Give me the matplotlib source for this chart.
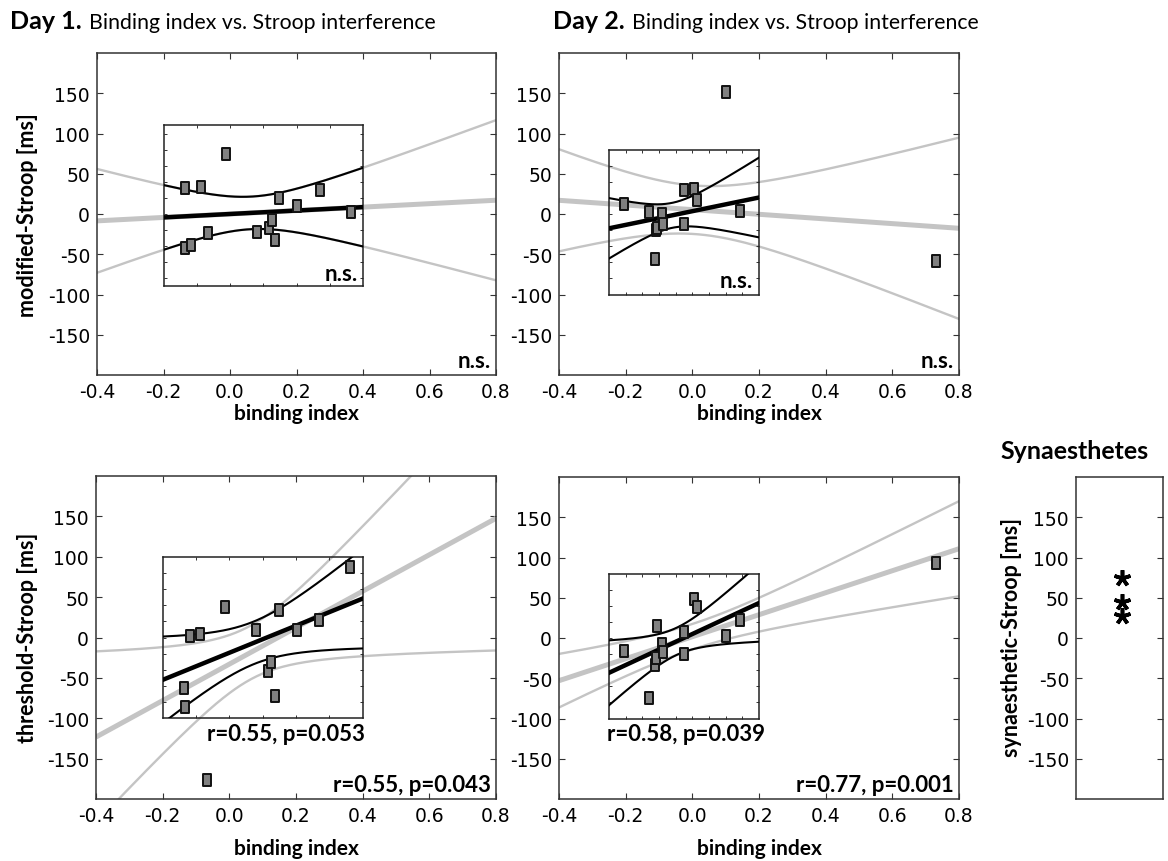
import numpy as np
import matplotlib
matplotlib.use("Agg")
import matplotlib.pyplot as plt
from matplotlib.path import Path

# ---------------- data ----------------
day1_binding = [-0.136, -0.134, -0.117, -0.088, -0.067, -0.013, 0.080,
                0.116, 0.125, 0.136, 0.148, 0.202, 0.270, 0.363]
day1_modified = [-42, 32, -38, 34, -24, 74, -22, -17, -7, -32, 19.5, 9.6, 30, 2]
day1_threshold = [-62, -86, 2, 4, -176, 38, 9, -41, -30, -72, 34, 9, 22, 87]

day2_binding = [-0.205, -0.130, -0.111, -0.109, -0.106, -0.091, -0.088,
                -0.026, -0.025, 0.005, 0.015, 0.101, 0.144, 0.732]
day2_modified = [13, 3, -56, -20, -17, 0, -13, -12, 30, 31, 17.5, 152, 3.4, -59]
day2_threshold = [-16, -74, -33, -25, 15, -7, -17, -20, 8, 49, 38.5, 3, 22, 93.5]

synaesthetic_stroop = [75, 45, 27]

x_ticks = [-0.4, -0.2, 0.0, 0.2, 0.4, 0.6, 0.8]
x_tick_labels = ["-0.4", "-0.2", "0.0", "0.2", "0.4", "0.6", "0.8"]
y_ticks = [-150, -100, -50, 0, 50, 100, 150]

outer_text = ["n.s.", "n.s.", "r=0.55, p=0.043", "r=0.77, p=0.001"]
inset_text = ["n.s.", "n.s.", "r=0.55, p=0.053", "r=0.58, p=0.039"]

# t(0.975, df)
T975 = {10: 2.2281, 11: 2.2010, 12: 2.1788}

LABEL_FONT = "Lato"
TICK_FONT = "DejaVu Sans"
GREY = "#c4c4c4"


def fit_band(x, y, xs):
    x = np.asarray(x, float)
    y = np.asarray(y, float)
    n = len(x)
    b, a = np.polyfit(x, y, 1)
    yhat = a + b * xs
    res = y - (a + b * x)
    s = np.sqrt(np.sum(res ** 2) / (n - 2))
    sxx = np.sum((x - x.mean()) ** 2)
    half = T975[n - 2] * s * np.sqrt(1.0 / n + (xs - x.mean()) ** 2 / sxx)
    return yhat, yhat - half, yhat + half


rect_marker = Path([(-0.72, -1), (0.72, -1), (0.72, 1), (-0.72, 1), (-0.72, -1)],
                   [Path.MOVETO, Path.LINETO, Path.LINETO, Path.LINETO, Path.CLOSEPOLY])
MK = dict(marker=rect_marker, markersize=8.5, markerfacecolor="#808080",
          markeredgecolor="#111111", markeredgewidth=1.4, linestyle="none",
          clip_on=False, zorder=10)

W, H = 1168, 862
fig = plt.figure(figsize=(W / 100, H / 100), dpi=100)


def px_axes(x0, y0, x1, y1):
    return fig.add_axes([x0 / W, 1 - y1 / H, (x1 - x0) / W, (y1 - y0) / H])


panels = [
    dict(box=(97, 54, 496, 376), x=day1_binding, y=day1_modified,
         ix=(-0.2, 0.4), iy=(-90, 110), ixstep=0.1,
         ins_txt=dict(x=0.975, y=0.04, ha="right", va="baseline")),
    dict(box=(559, 54, 959, 376), x=day2_binding, y=day2_modified,
         ix=(-0.25, 0.2), iy=(-100, 80), ixstep=0.05,
         ins_txt=dict(x=0.96, y=0.055, ha="right", va="baseline")),
    dict(box=(96, 477, 496, 800), x=day1_binding, y=day1_threshold,
         ix=(-0.2, 0.4), iy=(-100, 100), ixstep=0.1,
         ins_txt=dict(x=1.01, y=-0.03, ha="right", va="top")),
    dict(box=(559, 478, 959, 800), x=day2_binding, y=day2_threshold,
         ix=(-0.25, 0.2), iy=(-100, 80), ixstep=0.05,
         ins_txt=dict(x=-0.01, y=-0.03, ha="left", va="top")),
]

for k, p in enumerate(panels):
    ax = px_axes(*p["box"])
    ax.set_xlim(-0.4, 0.8)
    ax.set_ylim(-200, 200)
    ax.set_xticks(x_ticks)
    ax.set_xticklabels(x_tick_labels)
    ax.set_yticks(y_ticks)
    ax.set_yticklabels([str(v) for v in y_ticks])
    ax.tick_params(direction="in", length=4, width=0.8, top=True, right=True,
                   labelsize=13.5, pad=5, color="#333333")
    for lab in ax.get_xticklabels() + ax.get_yticklabels():
        lab.set_family(TICK_FONT)
    for s in ax.spines.values():
        s.set_linewidth(1.1)
        s.set_color("#333333")

    x = np.asarray(p["x"], float)
    y = np.asarray(p["y"], float)
    xs = np.linspace(-0.4, 0.8, 300)
    yh, lo, hi = fit_band(x, y, xs)
    ax.plot(xs, yh, color=GREY, lw=3.6, solid_capstyle="butt", zorder=2)
    ax.plot(xs, lo, color=GREY, lw=1.7, zorder=2)
    ax.plot(xs, hi, color=GREY, lw=1.7, zorder=2)

    inside = ((x >= p["ix"][0]) & (x <= p["ix"][1]) &
              (y >= p["iy"][0]) & (y <= p["iy"][1]))
    ax.plot(x[~inside], y[~inside], **MK)

    ins = ax.inset_axes([p["ix"][0], p["iy"][0], p["ix"][1] - p["ix"][0],
                         p["iy"][1] - p["iy"][0]], transform=ax.transData)
    ins.set_facecolor("none")
    ins.set_xlim(*p["ix"])
    ins.set_ylim(*p["iy"])
    step = p["ixstep"]
    ins.set_xticks(np.arange(p["ix"][0] + step, p["ix"][1] - 1e-9, step))
    ins.set_yticks(np.arange(-80, p["iy"][1] - 1e-9, 20))
    ins.tick_params(direction="in", length=2.5, width=0.7, top=True, right=True,
                    labelbottom=False, labelleft=False, color="#333333")
    for s in ins.spines.values():
        s.set_linewidth(1.1)
        s.set_color("#222222")
    xi = np.linspace(p["ix"][0], p["ix"][1], 200)
    yh2, lo2, hi2 = fit_band(x[inside], y[inside], xi)
    ins.plot(xi, yh2, color="black", lw=3.2, zorder=3)
    ins.plot(xi, lo2, color="black", lw=1.5, zorder=3)
    ins.plot(xi, hi2, color="black", lw=1.5, zorder=3)
    ins.plot(x[inside], y[inside], **MK)

    ax.text(0.988, 0.024, outer_text[k], transform=ax.transAxes, ha="right",
            va="baseline", fontsize=16, fontweight="bold", family=LABEL_FONT,
            zorder=12)
    t = p["ins_txt"]
    ins.text(t["x"], t["y"], inset_text[k], transform=ins.transAxes,
             ha=t["ha"], va=t["va"], fontsize=16, fontweight="bold",
             family=LABEL_FONT, zorder=12)

# synaesthetes panel
axs = px_axes(1076, 478, 1163, 800)
axs.set_xlim(0, 2)
axs.set_ylim(-200, 200)
axs.set_xticks([])
axs.set_yticks(y_ticks)
axs.set_yticklabels([str(v) for v in y_ticks])
axs.tick_params(direction="in", length=4, width=0.8, right=True,
                labelsize=13.5, pad=5, color="#333333")
for lab in axs.get_yticklabels():
    lab.set_family(TICK_FONT)
for s in axs.spines.values():
    s.set_linewidth(1.1)
    s.set_color("#333333")
axs.plot([1.05] * len(synaesthetic_stroop), synaesthetic_stroop, linestyle="none",
         marker=(5, 2, 0), markersize=12, markeredgewidth=2.6,
         markeredgecolor="black", color="black")

# labels and titles
fig.text(28 / W, 1 - 215 / H, "modified-Stroop [ms]", rotation=90, ha="center",
         va="center", fontsize=15.5, fontweight="bold", family=LABEL_FONT)
fig.text(28 / W, 1 - 638 / H, "threshold-Stroop [ms]", rotation=90, ha="center",
         va="center", fontsize=15.5, fontweight="bold", family=LABEL_FONT)
fig.text(1011 / W, 1 - 638 / H, "synaesthetic-Stroop [ms]", rotation=90,
         ha="center", va="center", fontsize=15.5, fontweight="bold", family=LABEL_FONT)
for cx, cy in [(296, 414), (759, 414), (296, 849), (759, 849)]:
    fig.text(cx / W, 1 - cy / H, "binding index", ha="center", va="center",
             fontsize=15, fontweight="bold", family=LABEL_FONT)
fig.text(1075 / W, 1 - 452 / H, "Synaesthetes", ha="center", va="center",
         fontsize=18, fontweight="bold", family=LABEL_FONT)

for x0, day in [(10, "Day 1."), (553, "Day 2.")]:
    t1 = fig.text(x0 / W, 1 - 29 / H, day, ha="left", va="baseline",
                  fontsize=18, fontweight="bold", family=LABEL_FONT)
    fig.canvas.draw()
    bb = t1.get_window_extent()
    fig.text((bb.x1 + 7) / W, 1 - 29 / H, "Binding index vs. Stroop interference",
             ha="left", va="baseline", fontsize=15.3, family=LABEL_FONT)

fig.savefig("out.png", dpi=100)
